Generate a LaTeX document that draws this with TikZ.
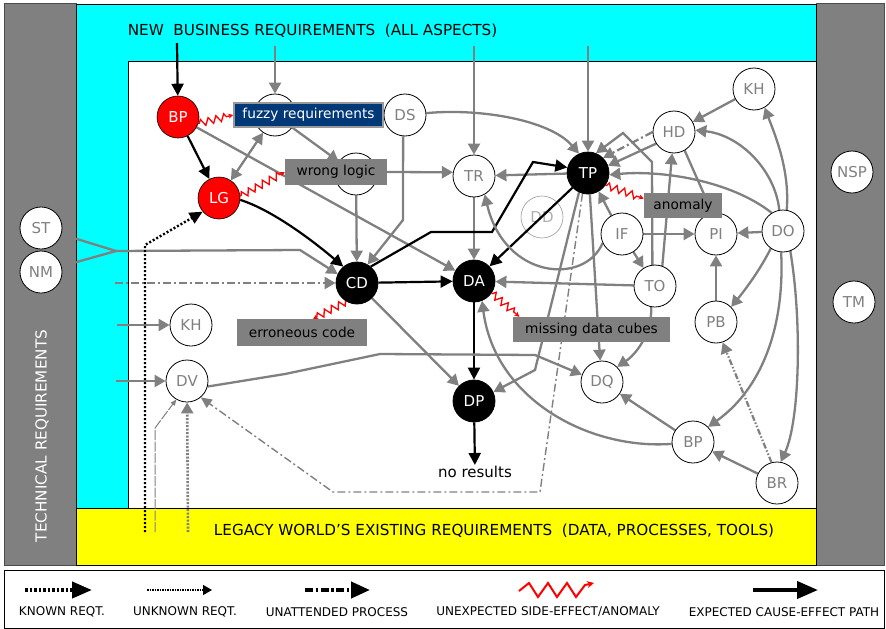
\documentclass[tikz,border=0pt]{standalone}
\usepackage{fontspec}
\setmainfont{DejaVu Sans}
\usetikzlibrary{arrows.meta,decorations.pathmorphing}
\pgfdeclarelayer{panels}
\pgfdeclarelayer{wires}
\pgfsetlayers{panels,wires,main}
\definecolor{navy}{RGB}{0,56,120}
\definecolor{ddgray}{RGB}{175,175,175}
\definecolor{aqua}{RGB}{0,255,255}
\definecolor{lemon}{RGB}{255,255,0}
\definecolor{redc}{RGB}{255,0,0}
\definecolor{midgray}{RGB}{128,128,128}
\newcommand\hdrfont{\fontsize{15.2}{16}\selectfont}
\newcommand\lblfont{\fontsize{15}{16}\selectfont}
\newcommand\boxfont{\fontsize{13.7}{15}\selectfont}
\newcommand\legfont{\fontsize{12}{13}\selectfont}

\begin{document}
\begin{tikzpicture}[x=1pt,y=-1pt,
  tip/.style={-{Triangle[length=11pt,width=12pt]}},
  gw/.style={draw=midgray,line width=2.3pt},
  gc/.style={gw,tip},
  bk/.style={draw=black,line width=2.2pt,-{Triangle[length=12pt,width=12pt]}},
  zz/.style={draw=redc,line width=1.3pt,decorate,
    decoration={zigzag,segment length=8pt,amplitude=3.5pt,pre length=1pt,post length=4pt},
    -{Stealth[length=5pt,width=5pt]}},
  unatt/.style={gw,dash pattern=on 8pt off 3pt on 2pt off 3pt,tip},
  unattthin/.style={draw=midgray,line width=1.4pt,dash pattern=on 8pt off 3pt on 2pt off 3pt,
    -{Triangle[length=11pt,width=10pt]}},
  known/.style={draw=black,line width=2.4pt,dash pattern=on 2pt off 2pt,
    -{Triangle[length=13pt,width=12pt]}},
  unknown/.style={draw=midgray,line width=1pt,dash pattern=on 10pt off 1.5pt,
    -{Triangle[length=6pt,width=5pt]}},
  gdot/.style={draw=midgray,line width=2.6pt,dash pattern=on 2pt off 1.5pt,tip},
  dashdots/.style={draw=midgray,line width=2.2pt,dash pattern=on 6pt off 2pt on 1.5pt off 2pt on 1.5pt off 2pt,tip},
  wc/.style={circle,draw=black,line width=0.8pt,fill=white,minimum size=42pt,inner sep=0pt,
    text=midgray,font=\lblfont},
  bc/.style={circle,draw=black,line width=0.8pt,fill=black,minimum size=42pt,inner sep=0pt,
    text=white,font=\lblfont},
  rc/.style={circle,draw=black,line width=0.6pt,fill=redc,minimum size=42pt,inner sep=0pt,
    text=white,font=\lblfont},
  ddc/.style={circle,draw=midgray!80,line width=0.6pt,minimum size=42pt,inner sep=0pt,
    text=ddgray,font=\lblfont},
  gbox/.style={rectangle,fill=midgray,text=black,inner sep=0pt,font=\boxfont},
  legtxt/.style={font=\legfont,text=black,inner sep=0pt}
]
\useasboundingbox (0,0) rectangle (886,629);

% ---------- panels ----------
\begin{pgfonlayer}{panels}
  \fill[white] (0,0) rectangle (886,629);
  \draw[fill=midgray,draw=black!70,line width=0.6pt] (4,3) rectangle (76,565);
  \draw[fill=midgray,draw=black!70,line width=0.6pt] (816,3) rectangle (884,565);
  \draw[fill=aqua,draw=black,line width=0.8pt] (76,4) rectangle (816,508);
  \draw[fill=white,draw=black,line width=0.8pt] (128,61) rectangle (816,508);
  \draw[fill=lemon,draw=black,line width=0.8pt] (76,508) rectangle (816,565);
  \draw[fill=white,draw=black,line width=0.8pt] (4,570) rectangle (884,628.5);
\end{pgfonlayer}

\node[font=\hdrfont] (newbiz) at (312.5,31) {NEW\ \ BUSINESS REQUIREMENTS\ \ (ALL ASPECTS)};
\node[font=\hdrfont] (legacy) at (494,531) {LEGACY WORLD'S EXISTING REQUIREMENTS\ \ (DATA, PROCESSES, TOOLS)};
\node[font=\hdrfont,text=white,rotate=90] (techreq) at (42,436) {TECHNICAL REQUIREMENTS};

% ---------- nodes ----------
\node[wc] (ST)  at (41,228)  {ST};
\node[wc] (NM)  at (41,272)  {NM};
\node[wc] (NSP) at (852,172) {NSP};
\node[wc] (TM)  at (854,302) {TM};
\node[rc] (BPr) at (178,117) {BP};
\node[rc] (LG)  at (219,198) {LG};
\node[wc] (fzc) at (275,115) {};
\node[wc] (DS)  at (405,115) {DS};
\node[wc] (wlc) at (356,174) {};
\node[wc] (TR)  at (474,176) {TR};
\node[bc] (TP)  at (588,173) {TP};
\node[wc] (HD)  at (674,132) {HD};
\node[wc] (KHr) at (754,89)  {KH};
\node[wc] (IF)  at (622,234) {IF};
\node[wc] (PI)  at (716,234) {PI};
\node[wc] (DO)  at (783,231) {DO};
\node[bc] (CD)  at (357,283) {CD};
\node[bc] (DA)  at (474,281) {DA};
\node[wc] (TO)  at (655,286) {TO};
\node[wc] (PB)  at (716,322) {PB};
\node[wc] (KHl) at (191,325) {KH};
\node[wc] (DV)  at (187,381) {DV};
\node[bc] (DP)  at (474,401) {DP};
\node[wc] (DQ)  at (602,382) {DQ};
\node[wc] (BPb) at (693,442) {BP};
\node[wc] (BR)  at (777,483) {BR};
\node[font=\lblfont,inner sep=1pt] (nores) at (475,472) {no results};

% labelled boxes
\node[rectangle,fill=navy,draw=midgray!80,line width=1.5pt,text=white,font=\boxfont,
  minimum width=149pt,minimum height=24pt,inner sep=0pt] (fzb) at (308.5,115) {fuzzy requirements};
\node[gbox,minimum width=102pt,minimum height=26pt] (wlb) at (336,172) {wrong logic};
\node[gbox,minimum width=78pt,minimum height=25pt] (anb) at (683,205.5) {anomaly};
\node[gbox,minimum width=130pt,minimum height=27pt] (errb) at (302,332.5) {erroneous code};
\node[gbox,minimum width=157pt,minimum height=25pt] (mdb) at (591.5,329.5) {missing data cubes};

% ---------- connectors ----------
\begin{pgfonlayer}{wires}
  \node[ddc] (DD) at (542,217) {DD};

  % inputs from the top band
  \coordinate (t1) at (177,43);
  \coordinate (t2) at (275,46);
  \coordinate (t3) at (474,46);
  \coordinate (t4) at (588,46);
  \draw[bk] (t1) -- (BPr);
  \draw[gc] (t2) -- (fzc);
  \draw[gc] (t3) -- (TR);
  \draw[gc] (t4) -- (TP);

  % inputs from the left
  \coordinate (jn) at (116,251);
  \coordinate (jn2) at (300,250);
  \draw[gw] (ST) -- (jn);
  \draw[gw] (NM) -- (jn);
  \draw[gc] (jn) -- (jn2) -- (CD.155);
  \coordinate (u1) at (115,283);
  \draw[unatt] (u1) -- (CD.west);
  \coordinate (l1) at (117,325);
  \coordinate (l2) at (116,381);
  \draw[gc] (l1) -- (KHl);
  \draw[gc] (l2) -- (DV);

  % inputs from the bottom band
  \coordinate (b1) at (145,532);
  \coordinate (b2) at (155,532);
  \coordinate (b3) at (188,532);
  \draw[known] (b1) -- (145,245) -- (LG.220);
  \draw[unknown] (b2) -- (155,428) -- (DV.240);
  \draw[gdot] (b3) -- (DV);

  % red cluster
  \draw[bk] (BPr) -- (LG);
  \draw[gc] (BPr) -- (DA);
  \draw[gw,{Triangle[length=11pt,width=12pt]}-{Triangle[length=11pt,width=12pt]}] (LG) -- (fzc);
  \draw[bk] (LG.-5) .. controls (272,210) and (312,240) .. (CD.130);
  \draw[gc] (fzc) -- (wlc);
  \draw[gc] (wlb.east) -- (TR.170);
  \draw[gc] (wlc) -- (CD);
  \draw[gc] (DS.265) -- (403,220) -- (CD.60);
  \draw[gc] (DS.5) .. controls (480,108) and (550,120) .. (TP.115);

  % central chain
  \draw[gc] (TR) -- (DA);
  \draw[gc] (TP) -- (TR);
  \draw[bk] (CD.50) -- (431,232) -- (492,232) -- (533,162) -- (TP.165);
  \draw[bk] (TP) -- (DA);
  \draw[bk] (CD) -- (DA);
  \draw[bk] (DA) -- (DP);
  \draw[bk] (DP) -- (nores);
  \draw[gc] (CD) -- (DP);
  \draw[gc] (DV.-15) -- (285,374) -- (380,354) -- (535,355) -- (DQ.160);
  \draw[unattthin] (TP.-105) -- (540,492) -- (333,492) -- (DV.-50);
  \draw[gc] (TP.-115) -- (535,370) -- (DP.25);
  \draw[gc] (TP.-85) -- (DQ.95);

  % right cluster
  \draw[gc] (IF.120) -- (TP.-60);
  \draw[gc] (IF.205) .. controls (585,285) and (505,280) .. (TR.-60);
  \draw[gc] (TO) -- (DA);
  \draw[gc] (IF) -- (TO);
  \draw[gc] (IF) -- (PI);
  \draw[gc] (DO) -- (PI);
  \draw[gc] (PB) -- (PI);
  \draw[gc] (TO.97) -- (652,162) -- (623,133) -- (TP.68);
  \draw[gc] (TO.70) -- (HD.-95);
  \draw[gc] (HD.213) -- (TP.20);
  \draw[gw,dash pattern=on 8pt off 3pt on 2pt off 3pt,tip] (HD.180) -- (TP.45);
  \draw[gc] (HD.-60) -- (PI.100);
  \draw[gc] (KHr) -- (HD);
  \draw[gc] (DO.122) .. controls (730,180) and (660,170) .. (TP.-5);
  \draw[gc] (DO.100) .. controls (775,170) and (740,135) .. (HD.5);
  \draw[gc] (DO.80) .. controls (790,170) and (775,135) .. (KHr.-60);
  \draw[gc] (DO.-125) .. controls (760,270) and (745,290) .. (PB.45);
  \draw[gc] (DO.-95) .. controls (785,330) and (760,390) .. (BPb.45);
  \draw[gc] (DO.-70) .. controls (802,320) and (800,420) .. (BR.80);
  \draw[gc] (BR) -- (BPb);
  \draw[dashdots] (BR.105) -- (PB.-72);
  \draw[gc] (BPb) -- (DQ);
  \draw[gc] (BPb.185) .. controls (590,450) and (495,400) .. (DA.-68);
  \draw[gc] (TO.-100) .. controls (652,335) and (635,355) .. (DQ.45);

  % side effects
  \draw[zz] (BPr.-18) -- (fzb.west);
  \draw[zz] (LG.5) -- (wlb.west);
  \draw[zz] (TP.-35) -- (anb.170);
  \draw[zz] (CD.-120) -- (errb.51);
  \draw[zz] (DA.-34) -- (mdb.170);
\end{pgfonlayer}

% ---------- legend ----------
\draw[black,line width=4pt,dash pattern=on 2.5pt off 2pt,-{Triangle[length=20pt,width=16pt]}]
  (25,590) -- (92,590);
\draw[black,line width=1.5pt,dash pattern=on 1.5pt off 1pt,-{Triangle[length=9pt,width=10pt]}]
  (147,590) -- (212,590);
\draw[black,line width=4pt,dash pattern=on 8pt off 2.5pt on 2.5pt off 2.5pt,-{Triangle[length=19pt,width=16pt]}]
  (305,590) -- (370,590);
\draw[redc,line width=2pt,line join=miter,-{Stealth[length=7pt,width=7pt]}]
  (519,591) -- (529,583) -- (538,597) -- (548,583) -- (557,597) -- (567,583) -- (576,597) -- (585,585) -- (594,583);
\draw[black,line width=4pt,-{Triangle[length=21pt,width=17pt]}] (753,590) -- (818,590);

\node[legtxt] (lg1) at (62,612)  {KNOWN REQT.};
\node[legtxt] (lg2) at (185,612) {UNKNOWN REQT.};
\node[legtxt] (lg3) at (337,612) {UNATTENDED PROCESS};
\node[legtxt] (lg4) at (548,612) {UNEXPECTED SIDE-EFFECT/ANOMALY};
\node[legtxt] (lg5) at (784,612) {EXPECTED CAUSE-EFFECT PATH};
\end{tikzpicture}
\end{document}
